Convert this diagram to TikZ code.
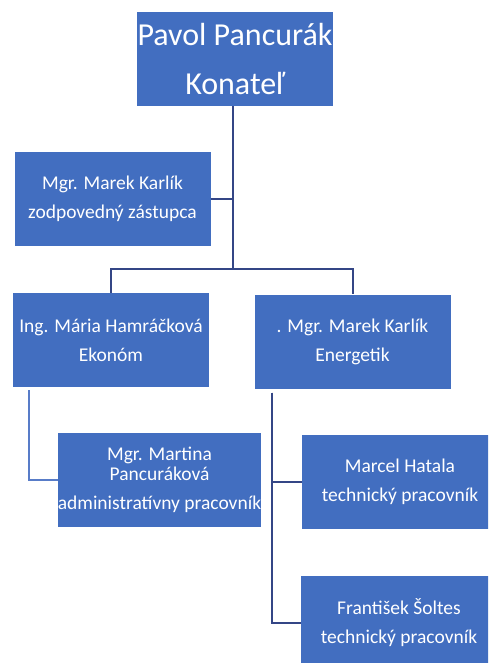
\documentclass[tikz,border=0pt]{standalone}
\usepackage{fontspec}
\setmainfont{Carlito}
\usetikzlibrary{positioning}
\definecolor{boxblue}{RGB}{66,110,192}
\definecolor{navy}{RGB}{52,70,134}
\definecolor{lightline}{RGB}{88,124,200}
\tikzset{box/.style={fill=boxblue, text=white, align=center, inner sep=0pt,
    minimum width=196pt, minimum height=94pt, font=\fontsize{19.5}{29}\selectfont},
  bigbox/.style={box, font=\fontsize{32}{49}\selectfont},
  link/.style={navy, line width=2pt},
  sublink/.style={lightline, line width=2.2pt}}

\begin{document}
\begin{tikzpicture}[x=1pt, y=-1pt]
      \useasboundingbox (0,0) rectangle (488,663);
      \clip (0,0) rectangle (488,663);

      \node [bigbox] (boss) at (235, 59) {Pavol Pancurák\\Konateľ};
      \node [box] (zast) at (112.5, 199) {Mgr. Marek Karlík\\zodpovedný zástupca};
      \node [box] (ekonom) at (111, 340) {Ing. Mária Hamráčková\\Ekonóm};
      \node [box] (energ) at (352.5, 341.5) {. Mgr. Marek Karlík\\Energetik};
      \node [box] (martina) at (159.5, 480) {Mgr. Martina\\[-9pt]Pancuráková\\administratívny pracovník};
      \node [box] (hatala) at (400, 481.5) {Marcel Hatala\\technický pracovník};
      \node [box] (soltes) at (399, 623) {František Šoltes\\technický pracovník};

      \coordinate (bus) at (233, 269);
      \draw [link] (boss.south -| bus) -- (bus);
      \draw [link] (zast.east) -- (zast.east -| bus);
      \draw [link] (ekonom.north) |- (bus) -| (energ.north);

      \draw [sublink] (ekonom.south west) ++(16, 3) |- (martina.west);
      \draw [link] (energ.south west) ++(18, 4) |- (hatala.west);
      \draw [link] (energ.south west) ++(18, 4) |- (soltes.west);
    \end{tikzpicture}
\end{document}
